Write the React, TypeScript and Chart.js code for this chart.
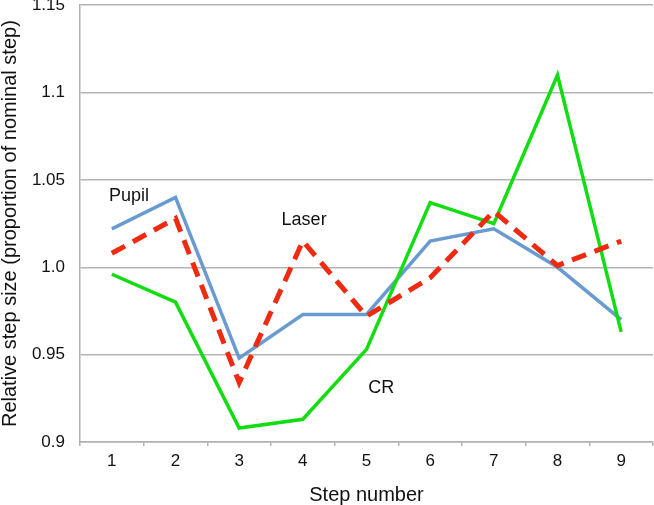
import React, { useEffect, useRef } from "react";
import { Chart, registerables } from "chart.js";

Chart.register(...registerables);

const steps = ["1", "2", "3", "4", "5", "6", "7", "8", "9"];
const pupil = [1.022, 1.040, 0.948, 0.973, 0.973, 1.015, 1.022, 1.000, 0.970];
const laser = [1.008, 1.028, 0.934, 1.015, 0.972, 0.994, 1.032, 1.001, 1.015];
const cr = [0.996, 0.980, 0.908, 0.913, 0.953, 1.037, 1.025, 1.110, 0.963];
const yTickValues = [0.9, 0.95, 1.0, 1.05, 1.1, 1.15];
const yTickLabels = ["0.9", "0.95", "1.0", "1.05", "1.1", "1.15"];
const seriesLabels = ["Pupil", "Laser", "CR"];
const labelXs = [0.27, 3.02, 4.23];
const labelYs = [1.041, 1.027, 0.931];

const FONT = "'Liberation Sans', Arial, sans-serif";

const seriesLabelPlugin = {
  id: "seriesLabels",
  afterDatasetsDraw(chart: any) {
    const ctx = chart.ctx;
    const xs = chart.scales.x;
    const ys = chart.scales.y;
    ctx.save();
    ctx.font = `18px ${FONT}`;
    ctx.fillStyle = "#111";
    ctx.textAlign = "center";
    ctx.textBaseline = "middle";
    seriesLabels.forEach((t, i) => {
      ctx.fillText(t, xs.getPixelForValue(labelXs[i]), ys.getPixelForValue(labelYs[i]));
    });
    ctx.restore();
  },
};

export default function App() {
  const ref = useRef<HTMLCanvasElement | null>(null);
  useEffect(() => {
    if (!ref.current) return;
    const chart = new Chart(ref.current, {
      type: "line",
      data: {
        labels: steps,
        datasets: [
          {
            label: "Laser",
            data: laser,
            borderColor: "#ee2a10",
            borderWidth: 5,
            borderDash: [15, 9],
            pointRadius: 0,
            tension: 0,
            fill: false,
          },
          {
            label: "CR",
            data: cr,
            borderColor: "#11dd11",
            borderWidth: 3.5,
            pointRadius: 0,
            tension: 0,
            fill: false,
          },
          {
            label: "Pupil",
            data: pupil,
            borderColor: "#6a9bd0",
            borderWidth: 3.5,
            pointRadius: 0,
            tension: 0,
            fill: false,
          },
        ],
      },
      options: {
        responsive: false,
        animation: false,
        devicePixelRatio: 1,
        layout: { padding: { right: 1 } },
        plugins: {
          legend: { display: false },
          tooltip: { enabled: false },
        },
        scales: {
          x: {
            offset: true,
            grid: {
              offset: true,
              drawOnChartArea: false,
              drawTicks: true,
              tickLength: 4,
              color: "#b0b0b0",
              lineWidth: 1.5,
            },
            border: { color: "#b0b0b0", width: 1.5 },
            ticks: {
              padding: 5,
              color: "#111",
              font: { family: FONT, size: 17 },
            },
            title: {
              display: true,
              text: "Step number",
              color: "#111",
              font: { family: FONT, size: 20, lineHeight: 1 },
              padding: { top: 0, bottom: 0 },
            },
            afterFit(scale: any) {
              scale.height = 63;
            },
          },
          y: {
            min: 0.9,
            max: 1.15,
            afterBuildTicks(scale: any) {
              scale.ticks = yTickValues.map((v) => ({ value: v }));
            },
            grid: {
              drawTicks: true,
              tickLength: 15,
              tickColor: "rgba(0,0,0,0)",
              color: "#b4b4b4",
              lineWidth: 1.5,
            },
            border: { color: "#b0b0b0", width: 1.5 },
            ticks: {
              padding: 0,
              color: "#111",
              font: { family: FONT, size: 17 },
              callback(value: any) {
                const i = yTickValues.findIndex((v) => Math.abs(v - value) < 1e-6);
                return i >= 0 ? yTickLabels[i] : "";
              },
            },
            title: {
              display: true,
              text: "Relative step size (proportion of nominal step)",
              color: "#111",
              font: { family: FONT, size: 20, lineHeight: 1 },
              padding: { top: 0, bottom: 0 },
            },
            afterFit(scale: any) {
              scale.width = 80;
            },
          },
        },
      },
      plugins: [seriesLabelPlugin],
    });
    return () => chart.destroy();
  }, []);
  return (
    <div style={{ position: "absolute", left: 0, top: -5, width: 654, height: 510 }}>
      <canvas ref={ref} width={654} height={510} style={{ width: 654, height: 510 }} />
    </div>
  );
}
